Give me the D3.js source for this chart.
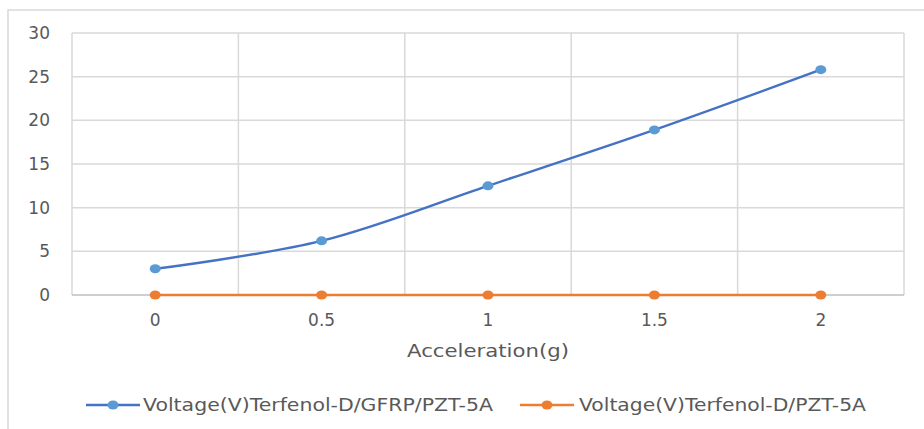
<!DOCTYPE html>
<html>
<head>
<meta charset="utf-8">
<script src="https://cdn.jsdelivr.net/npm/d3@7"></script>
<style>
  body { margin: 0; background: #fff; }
  text { font-family: "DejaVu Sans", sans-serif; fill: #595959; }
</style>
</head>
<body>
<div id="chart"></div>
<script>
// data
let categories = ["0", "0.5", "1", "1.5", "2"];
let seriesNames = ["Voltage(V)Terfenol-D/GFRP/PZT-5A", "Voltage(V)Terfenol-D/PZT-5A"];
let gfrpValues = [3.0, 6.2, 12.5, 18.9, 25.8];
let plainValues = [0, 0, 0, 0, 0];
let yTicks = [0, 5, 10, 15, 20, 25, 30];

let width = 924, height = 429;
let plot = { left: 72, right: 904, top: 33, bottom: 295 };

let lineColors = ['#4472C4', '#ED7D31'];
let markerColors = ['#5B9BD5', '#ED7D31'];

let svg = d3.select("#chart").append("svg")
    .attr("width", width)
    .attr("height", height);

// outer frame (top and left edges visible)
svg.append("path")
    .attr("d", "M8," + height + "V10H" + width)
    .attr("fill", "none")
    .attr("stroke", "#d9d9d9")
    .attr("stroke-width", 1.5);

let xScale = d3.scaleBand()
    .domain(categories)
    .range([plot.left, plot.right]);

let yScale = d3.scaleLinear()
    .domain([0, 30])
    .range([plot.bottom, plot.top]);

// gridlines
svg.append("g")
    .selectAll("line")
    .data(yTicks.filter(d => d > 0))
    .join("line")
    .attr("x1", plot.left).attr("x2", plot.right)
    .attr("y1", d => yScale(d)).attr("y2", d => yScale(d))
    .attr("stroke", "#d9d9d9").attr("stroke-width", 1.5);

let edges = categories.map(c => xScale(c)).concat([plot.right]);
svg.append("g")
    .selectAll("line")
    .data(edges)
    .join("line")
    .attr("x1", d => d).attr("x2", d => d)
    .attr("y1", plot.top).attr("y2", plot.bottom)
    .attr("stroke", "#d9d9d9").attr("stroke-width", 1.5);

// x axis line
svg.append("line")
    .attr("x1", plot.left).attr("x2", plot.right)
    .attr("y1", plot.bottom).attr("y2", plot.bottom)
    .attr("stroke", "#bfbfbf").attr("stroke-width", 1.5);

// y tick labels
svg.append("g")
    .selectAll("text")
    .data(yTicks)
    .join("text")
    .attr("x", 50)
    .attr("y", d => yScale(d) + 6)
    .attr("text-anchor", "end")
    .style("font-size", "17px")
    .text(d => d);

// x tick labels
svg.append("g")
    .selectAll("text")
    .data(categories)
    .join("text")
    .attr("x", d => xScale(d) + xScale.bandwidth() / 2)
    .attr("y", 326)
    .attr("text-anchor", "middle")
    .style("font-size", "17px")
    .text(d => d);

// axis title
svg.append("text")
    .attr("x", 488)
    .attr("y", 357)
    .attr("text-anchor", "middle")
    .attr("textLength", 162)
    .attr("lengthAdjust", "spacingAndGlyphs")
    .style("font-size", "17px")
    .text("Acceleration(g)");

let cx = d => xScale(d.cat) + xScale.bandwidth() / 2;

let line = d3.line()
    .x(cx)
    .y(d => yScale(d.value))
    .curve(d3.curveCatmullRom.alpha(0.5));

[plainValues, gfrpValues].forEach((values, k) => {
    let idx = 1 - k;
    let pts = values.map((v, i) => ({ cat: categories[i], value: v }));
    svg.append("path")
        .datum(pts)
        .attr("d", line)
        .attr("fill", "none")
        .attr("stroke", lineColors[idx])
        .attr("stroke-width", 2.5);
    svg.append("g")
        .selectAll("ellipse")
        .data(pts)
        .join("ellipse")
        .attr("cx", cx)
        .attr("cy", d => yScale(d.value))
        .attr("rx", 5.5).attr("ry", 4.5)
        .attr("fill", markerColors[idx]);
});

// legend
let legendItems = [
    { x: 86, textX: 143, len: 350 },
    { x: 520, textX: 579, len: 287 }
];
legendItems.forEach((it, i) => {
    let g = svg.append("g");
    g.append("line")
        .attr("x1", it.x).attr("x2", it.x + 54)
        .attr("y1", 405).attr("y2", 405)
        .attr("stroke", lineColors[i]).attr("stroke-width", 2.5);
    g.append("ellipse")
        .attr("cx", it.x + 27).attr("cy", 405)
        .attr("rx", 5.5).attr("ry", 4.5)
        .attr("fill", markerColors[i]);
    g.append("text")
        .attr("x", it.textX)
        .attr("y", 411)
        .attr("textLength", it.len)
        .attr("lengthAdjust", "spacingAndGlyphs")
        .style("font-size", "17px")
        .text(seriesNames[i]);
});
</script>
</body>
</html>
